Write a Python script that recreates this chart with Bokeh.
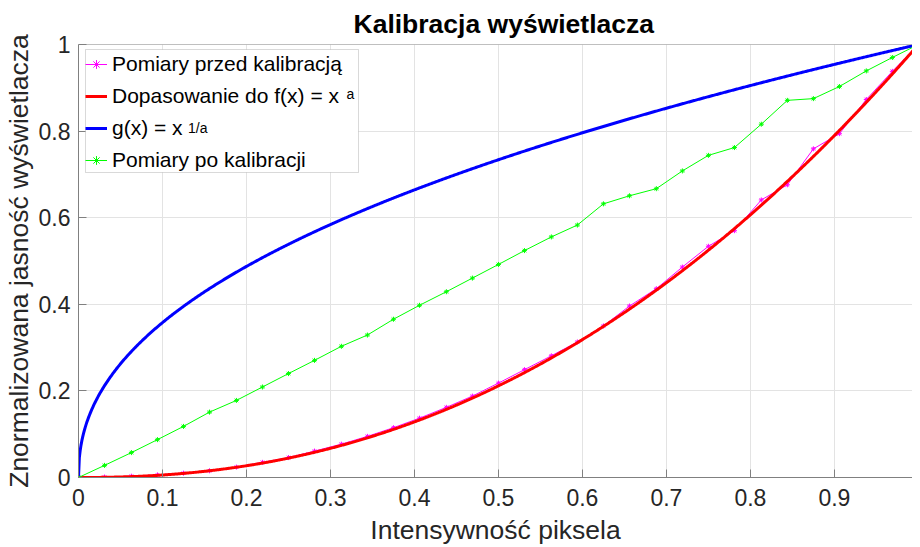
import numpy as np
from bokeh.plotting import figure
from bokeh.models import Range1d, FixedTicker, Legend, LegendItem, Label, BoxAnnotation, Span
from bokeh.embed import file_html
from bokeh.resources import INLINE

# ---- data ----
x_meas = [0.0, 0.031, 0.063, 0.094, 0.125, 0.156, 0.188, 0.219, 0.25, 0.281, 0.313,
          0.344, 0.375, 0.406, 0.438, 0.469, 0.5, 0.531, 0.563, 0.594, 0.625, 0.656,
          0.688, 0.719, 0.75, 0.781, 0.813, 0.844, 0.875, 0.906, 0.938, 0.969, 1.0]
before_cal = [0.0, 0.001, 0.003, 0.006, 0.010, 0.0155, 0.024, 0.035, 0.046, 0.061, 0.077,
              0.095, 0.115, 0.137, 0.162, 0.188, 0.218, 0.249, 0.281, 0.313, 0.350, 0.396,
              0.436, 0.486, 0.534, 0.570, 0.641, 0.676, 0.759, 0.794, 0.873, 0.938, 1.0]
after_cal = [0.0, 0.028, 0.0575, 0.0874, 0.118, 0.151, 0.178, 0.209, 0.240, 0.2705, 0.303,
             0.329, 0.3655, 0.3977, 0.429, 0.4605, 0.492, 0.524, 0.5556, 0.583, 0.632, 0.6506,
             0.667, 0.708, 0.744, 0.762, 0.816, 0.871, 0.875, 0.903, 0.939, 0.970, 1.0]
fit_exponent = 2.24  # "a" of the fitted curve f(x) = x^a

x_ticks = [0, 0.1, 0.2, 0.3, 0.4, 0.5, 0.6, 0.7, 0.8, 0.9]
x_tick_labels = ["0", "0.1", "0.2", "0.3", "0.4", "0.5", "0.6", "0.7", "0.8", "0.9"]
y_ticks = [0, 0.2, 0.4, 0.6, 0.8, 1]
y_tick_labels = ["0", "0.2", "0.4", "0.6", "0.8", "1"]

title_text = "Kalibracja wyświetlacza"
x_label = "Intensywność piksela"
y_label = "Znormalizowana jasność wyświetlacza"
legend_labels = ["Pomiary przed kalibracją", "Dopasowanie do f(x) = x", "g(x) = x", "Pomiary po kalibracji"]
legend_sups = ["a", "1/a"]

# fitted curves (the chart plots these functions)
x_fine = np.linspace(0, 1, 1001)
y_fit = x_fine ** fit_exponent
y_inv = x_fine ** (1.0 / fit_exponent)

FONT = "Liberation Sans"
TXT = "#262626"
AX = "#808080"

FRAME_H = 435
p = figure(width=912, height=547, output_backend="svg", toolbar_location=None,
           x_range=Range1d(0, 0.993), y_range=Range1d(0, 1),
           min_border_left=72, min_border_right=0, min_border_top=44, min_border_bottom=68)
p.outline_line_color = None
p.background_fill_color = "white"
p.border_fill_color = "white"

p.title.text = title_text
p.title.align = "left"
p.title.text_font = FONT
p.title.text_font_size = "26.5px"
p.title.text_font_style = "bold"
p.title.text_color = "black"
p.title.standoff = 12
p.title.offset = 275

for ax in (p.xaxis[0], p.yaxis[0]):
    ax.axis_line_color = AX
    ax.major_tick_line_color = AX
    ax.major_tick_in = 8
    ax.major_tick_out = 0
    ax.minor_tick_line_color = None
    ax.major_label_text_font = FONT
    ax.major_label_text_font_size = "23px"
    ax.major_label_text_color = TXT
    ax.axis_label_text_font = FONT
    ax.axis_label_text_font_size = "26.5px"
    ax.axis_label_text_font_style = "normal"
    ax.axis_label_text_color = TXT

p.xaxis[0].ticker = FixedTicker(ticks=x_ticks)
p.xaxis[0].major_label_overrides = dict(zip(x_ticks, x_tick_labels))
p.yaxis[0].ticker = FixedTicker(ticks=y_ticks)
p.yaxis[0].major_label_overrides = dict(zip(y_ticks, y_tick_labels))
p.xaxis[0].axis_label = x_label
p.yaxis[0].axis_label = y_label
p.xaxis[0].major_label_standoff = 11
p.xaxis[0].axis_label_standoff = 6
p.yaxis[0].major_label_standoff = 8
p.yaxis[0].axis_label_standoff = 2

# top edge of the axes box
p.add_layout(Span(location=1, dimension="width", line_color=AX, line_width=1))

p.grid.grid_line_color = "#e3e3e3"
p.grid.grid_line_width = 1
p.xgrid.ticker = FixedTicker(ticks=x_ticks)
p.ygrid.ticker = FixedTicker(ticks=y_ticks)

r_before_l = p.line(x_meas, before_cal, line_color="#ff00ff", line_width=1)
r_before_m = p.scatter(x_meas, before_cal, marker="asterisk", size=5, line_color="#ff00ff", line_width=1)
r_fit = p.line(x_fine, y_fit, line_color="#ff0000", line_width=3)
r_inv = p.line(x_fine, y_inv, line_color="#0000ff", line_width=3)
r_after_l = p.line(x_meas, after_cal, line_color="#00ff00", line_width=1)
r_after_m = p.scatter(x_meas, after_cal, marker="asterisk", size=5, line_color="#00ff00", line_width=1)

# legend frame (wide enough for the superscripts)
p.add_layout(BoxAnnotation(left=7, right=280, top=FRAME_H - 7, bottom=FRAME_H - 130,
                           left_units="screen", right_units="screen",
                           top_units="screen", bottom_units="screen",
                           fill_color="white", fill_alpha=1.0,
                           line_color=AX, line_width=1, level="annotation"))

legend = Legend(items=[
    LegendItem(label=legend_labels[0], renderers=[r_before_l, r_before_m]),
    LegendItem(label=legend_labels[1], renderers=[r_fit]),
    LegendItem(label=legend_labels[2], renderers=[r_inv]),
    LegendItem(label=legend_labels[3], renderers=[r_after_l, r_after_m]),
], location="top_left", margin=7, padding=3, spacing=6,
    glyph_width=22, glyph_height=26, label_height=26, label_standoff=5,
    label_text_font=FONT, label_text_font_size="21px", label_text_color="black",
    border_line_color=None, background_fill_alpha=0.0)
p.add_layout(legend, "center")

sup_a = Label(x=268, y=FRAME_H - 51, x_units="screen", y_units="screen", text=legend_sups[0],
              text_font=FONT, text_font_size="14px", text_color="black",
              text_baseline="alphabetic", level="overlay")
sup_inv = Label(x=109.5, y=FRAME_H - 85, x_units="screen", y_units="screen", text=legend_sups[1],
                text_font=FONT, text_font_size="14px", text_color="black",
                text_baseline="alphabetic", level="overlay")
p.add_layout(sup_a)
p.add_layout(sup_inv)

open("out.html", "w").write(file_html(p, INLINE))
